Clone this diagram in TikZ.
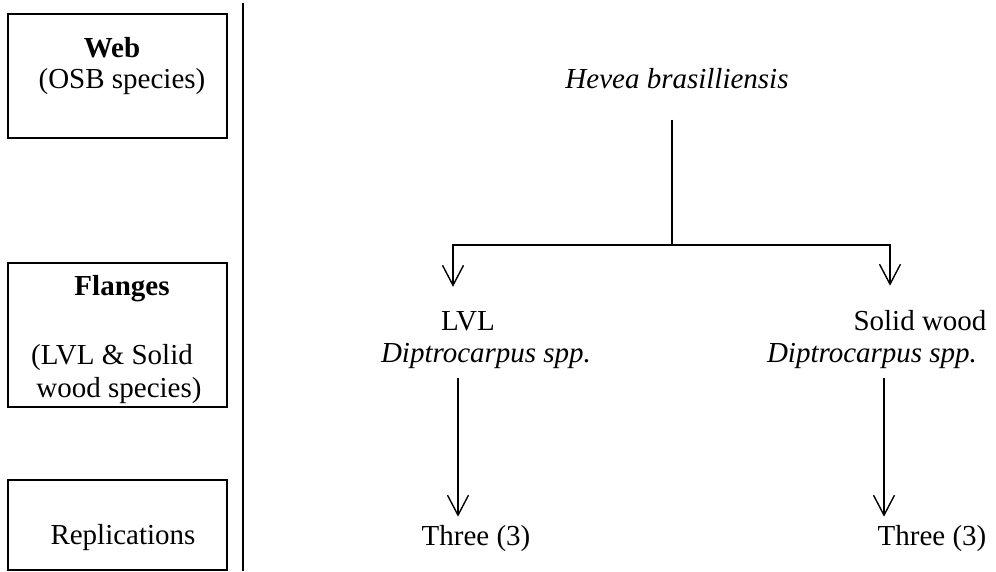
\documentclass[tikz,border=0pt]{standalone}
\usepackage{fontspec}
\setmainfont{Liberation Serif}
\usetikzlibrary{arrows.meta,positioning}

\begin{document}
\begin{tikzpicture}[
  x=1pt, y=-1pt,
  every node/.style={inner sep=0pt, font=\fontsize{29}{33}\selectfont},
  legend/.style={rectangle, draw, line width=1.6pt, minimum width=219pt, anchor=north west},
  head/.style={anchor=base, font=\fontsize{29}{33}\selectfont\bfseries},
  entry/.style={anchor=base},
  species/.style={anchor=base, font=\fontsize{29}{33}\selectfont\itshape},
  link/.style={line width=1.4pt},
  flow/.style={link, -{Straight Barb[length=20pt,width=21pt]}},
]
  \useasboundingbox (0,0) rectangle (996,571);

  % legend column
  \node[legend, minimum height=124pt] (webbox) at (7,13) {};
  \node[legend, minimum height=144pt] (flangebox) at (7,262) {};
  \node[legend, minimum height=90pt] (repbox) at (7,479) {};
  \node[head] (web) at (112,57) {Web};
  \node[entry] (osb) at (122,88) {(OSB species)};
  \node[head] (flanges) at (122,295) {Flanges};
  \node[entry] (lvlsolid) at (112,364) {(LVL \& Solid};
  \node[entry] (woodsp) at (119,397) {wood species)};
  \node[entry] (repl) at (123,544) {Replications};

  \coordinate (divtop) at (243,3);
  \coordinate (divbot) at (243,571);
  \draw[line width=1.6pt] (divtop) -- (divbot);

  % tree
  \node[species] (hevea) at (677,88) {Hevea brasilliensis};
  \node[entry] (lvl) at (468,330) {LVL};
  \node[species] (dipL) at (486,362) {Diptrocarpus spp.};
  \node[entry] (solid) at (920,330) {Solid wood};
  \node[species] (dipR) at (872,362) {Diptrocarpus spp.};
  \node[entry] (threeL) at (476,545) {Three (3)};
  \node[entry] (threeR) at (932,545) {Three (3)};

  \coordinate (split) at (672,245);
  \coordinate (leftdrop) at (453,245);
  \coordinate (rightdrop) at (890,245);
  \coordinate (leftlow) at (458,378);
  \coordinate (rightlow) at (884,378);

  \draw[link, shorten <=31pt] (hevea.south -| split) -- (split);
  \draw[flow, shorten >=24pt] (split) -| (lvl.north -| leftdrop);
  \draw[flow, shorten >=24pt] (split) -| (solid.north -| rightdrop);
  \draw[flow, shorten >=8pt] (leftlow) -- (threeL.north -| leftlow);
  \draw[flow, shorten >=8pt] (rightlow) -- (threeR.north -| rightlow);
\end{tikzpicture}
\end{document}
